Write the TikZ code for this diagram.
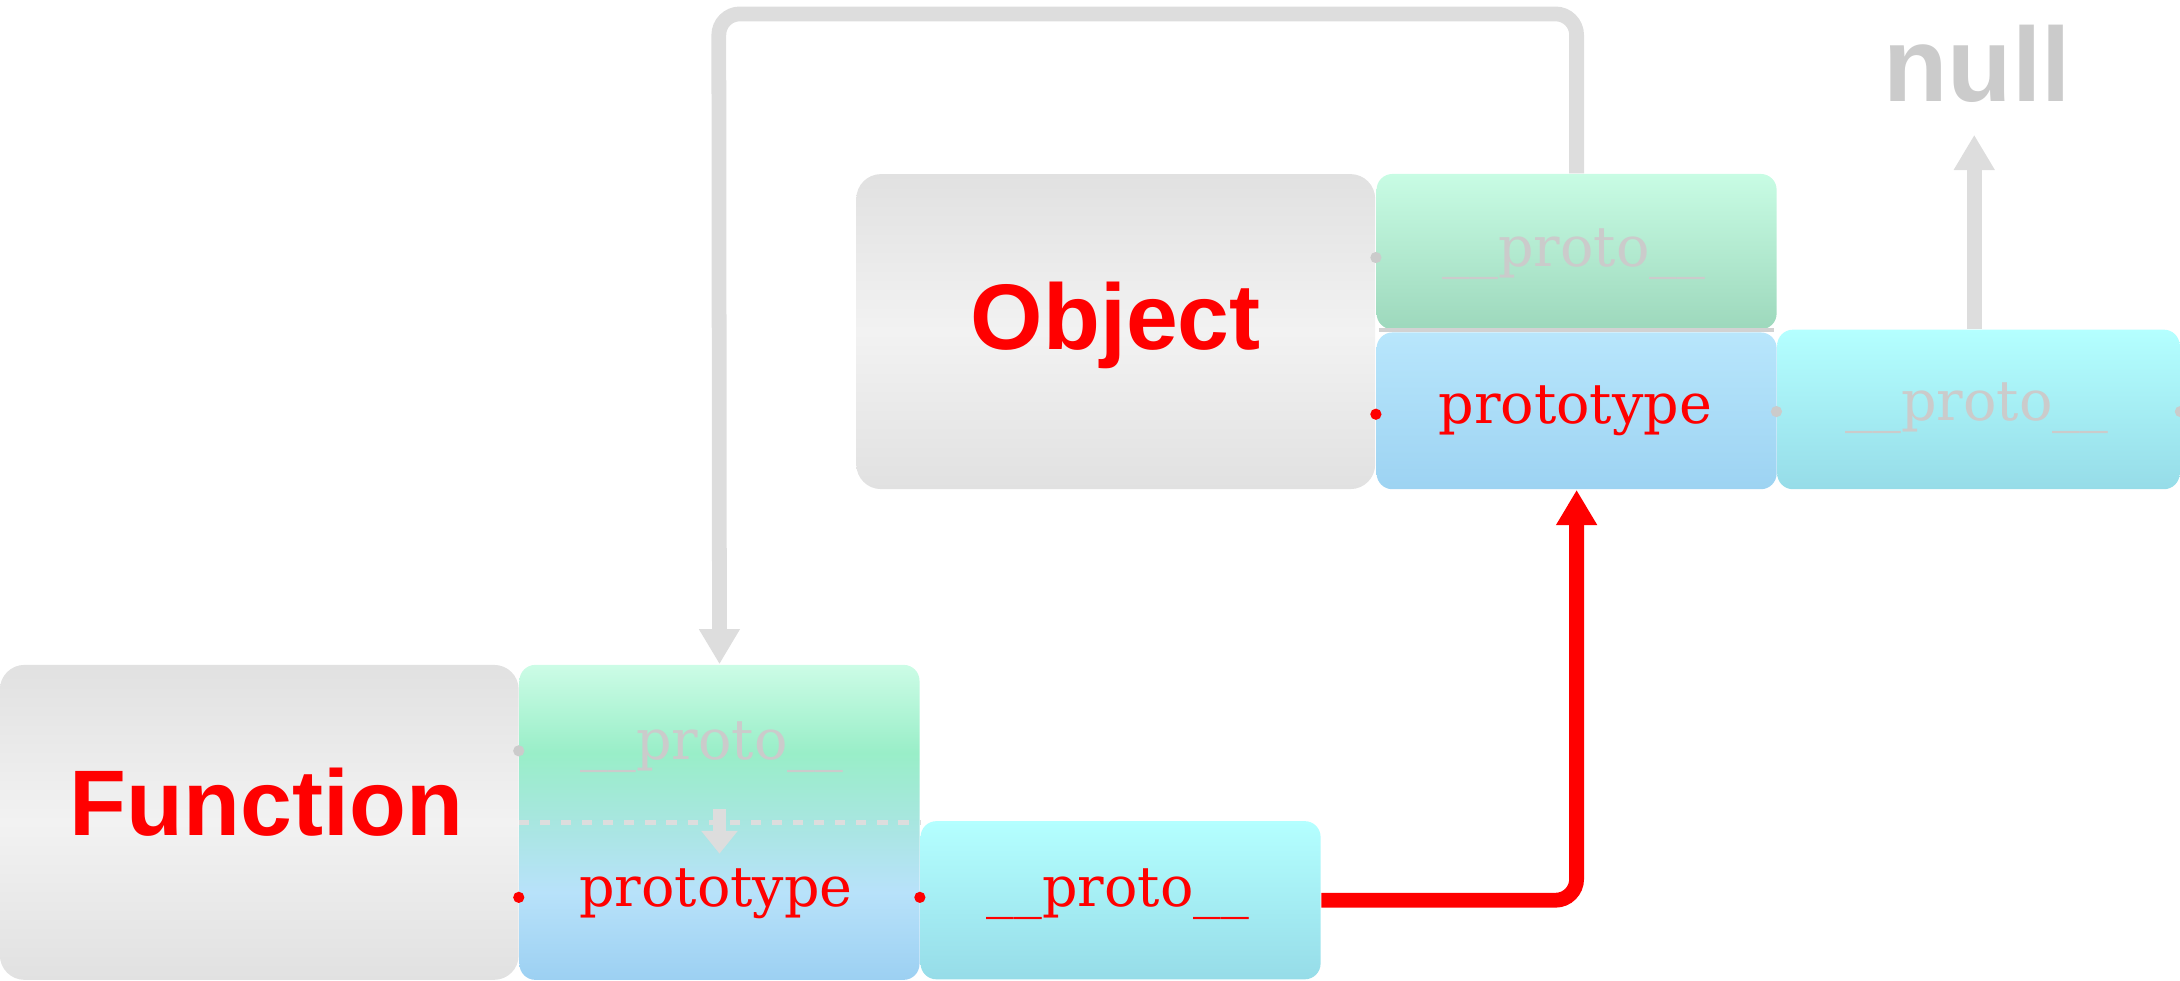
\documentclass[tikz,border=0pt]{standalone}
\usepackage{fontspec}
\setmainfont{DejaVu Serif}
\newfontfamily\labelfont{Liberation Sans}
\usetikzlibrary{arrows.meta}
\definecolor{linkgray}{HTML}{DDDDDD}
\definecolor{textgray}{HTML}{CBCBCB}
\definecolor{boxgray}{HTML}{E1E1E1}
\definecolor{boxlight}{HTML}{F2F2F2}
\definecolor{slotmint}{HTML}{CCFCE6}
\definecolor{slotgreen}{HTML}{99EEC8}
\definecolor{slotmid}{HTML}{A8E6E0}
\definecolor{slotlightblue}{HTML}{B8E2FA}
\definecolor{slotblue}{HTML}{9CD0F2}
\definecolor{greentop}{HTML}{C8FCE4}
\definecolor{greenbot}{HTML}{9DD8BC}
\definecolor{bluetop}{HTML}{B8E6FC}
\definecolor{bluebot}{HTML}{9DD3F2}
\definecolor{cyantop}{HTML}{B4FFFF}
\definecolor{cyanbot}{HTML}{96DCE8}
\pgfdeclareverticalshading{fslotshade}{100bp}{color(0bp)=(slotblue); color(25bp)=(slotblue); color(39bp)=(slotlightblue); color(50bp)=(slotmid); color(61bp)=(slotgreen); color(75bp)=(slotmint); color(100bp)=(slotmint)}

\begin{document}
\begin{tikzpicture}[x=0.013903cm,y=-0.013903cm]
\tikzstyle{every node}=[inner sep=0pt];
\tikzstyle{grbox}=[rounded corners=7pt,top color=boxgray,bottom color=boxgray,middle color=boxlight,minimum width=147.6pt,minimum height=89.6pt];
\tikzstyle{slot}=[rounded corners=4.5pt,minimum width=113.8pt,minimum height=45pt];
\tikzstyle{greenfill}=[top color=greentop,bottom color=greenbot];
\tikzstyle{bluefill}=[top color=bluetop,bottom color=bluebot];
\tikzstyle{cyanfill}=[top color=cyantop,bottom color=cyanbot];
\tikzstyle{slottext}=[anchor=base,font=\fontsize{15.8}{18}\selectfont];
\tikzstyle{bigtext}=[anchor=base,text=red,font=\labelfont\bfseries\fontsize{26.5}{30}\selectfont];
\tikzstyle{graylink}=[draw=linkgray,line width=4.2pt,rounded corners=6pt,-{Triangle[width=11pt,length=10pt]}];
\tikzstyle{redlink}=[draw=red,line width=4.2pt,rounded corners=6pt,-{Triangle[width=11pt,length=10pt]}];
% boxes
    \useasboundingbox (0,0) rectangle (1568,705);
    \node[grbox] (fbox) at (186.5,591.5) {};
    \node[slot,shading=fslotshade,minimum height=89.6pt] (fslot) at (517.5,591.5) {};
    \node[slot,cyanfill] (fpp) at (806,647.5) {};
    \node[grbox] (obox) at (802.5,238.5) {};
    \node[slot,greenfill,minimum height=44.2pt] (oproto) at (1134,181) {};
    \node[slot,bluefill,minimum height=44.6pt] (oprototype) at (1134,295.5) {};
    \node[slot,cyanfill,minimum width=114.5pt,minimum height=45.4pt] (oppp) at (1423,294.5) {};
%   dividers
    \draw[linkgray,line width=1.4pt,dash pattern=on 2.9pt off 3.1pt] (fslot.west) -- (fslot.east);
    \draw[linkgray!95!black,line width=1.2pt] ([xshift=1pt]oproto.south west) -- ([xshift=-1pt]oproto.south east);
% labels
    \node[bigtext] (flabel) at (191.5,600.6) {Function};
    \node[bigtext] (olabel) at (802.5,251.7) {Object};
    \node[anchor=base,text=textgray,font=\labelfont\bfseries\fontsize{30}{34}\selectfont] (null) at (1422,73) {null};
    \node[slottext,text=textgray] (fproto) at (512,546.6) {\_\_proto\_\_};
    \node[slottext,text=red] (fprototype) at (515,652) {prototype};
    \node[slottext,text=red] (fpptext) at (804,652) {\_\_proto\_\_};
    \node[slottext,text=textgray] (oprototext) at (1132,191.8) {\_\_proto\_\_};
    \node[slottext,text=red] (oprototypetext) at (1133,304.5) {prototype};
    \node[slottext,text=textgray] (opptext) at (1422,302.6) {\_\_proto\_\_};
%   dots
    \fill[textgray] (fslot.west |- fproto.mid) circle (1.6pt);
    \fill[red] (fslot.west |- fprototype.mid) circle (1.6pt);
    \fill[red] (fpp.west |- fpptext.mid) circle (1.6pt);
    \fill[textgray] (oproto.west |- oprototext.mid) circle (1.6pt);
    \fill[red] (oprototype.west |- oprototypetext.mid) circle (1.6pt);
    \fill[textgray] (oppp.west |- opptext.mid) circle (1.6pt);
    \fill[textgray] (oppp.east |- opptext.mid) circle (1.6pt);
% links
    \coordinate (loop) at (517,10);
    \coordinate (nulltip) at (1420,97);
    \draw[graylink] (oproto.north) |- (loop) -- (fslot.north);
    \draw[graylink] (nulltip |- oppp.north) -- (nulltip);
    \draw[redlink] (fpp.east) -| (oprototype.south);
    \draw[linkgray,line width=3.5pt,-{Triangle[width=10pt,length=6.5pt]}] ([yshift=3.7pt]fslot.center) -- ([yshift=-8.9pt]fslot.center);
\end{tikzpicture}
\end{document}
